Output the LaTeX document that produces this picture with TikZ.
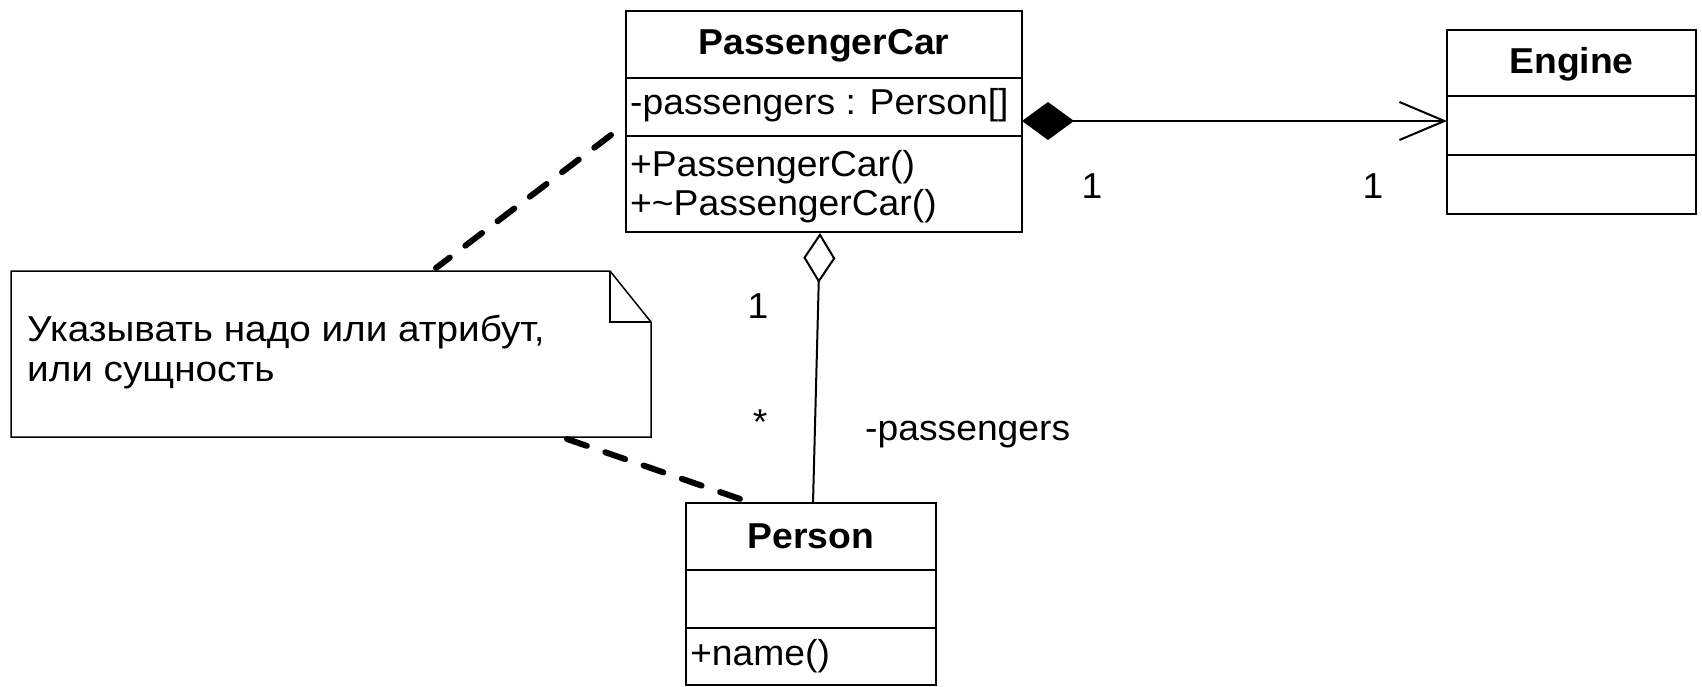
\documentclass[tikz,border=0pt]{standalone}
\usepackage{fontspec}
\setmainfont{Liberation Sans}[FakeStretch=1.035]
\newfontfamily\notefont{Liberation Sans}[FakeStretch=1.075]
\usetikzlibrary{arrows.meta}
\begin{document}
\begin{tikzpicture}[x=1pt,y=-1pt,
  comp/.style={draw, line width=2.6pt, anchor=north west, inner sep=0pt, outer sep=0pt},
  lbl/.style={font=\fontsize{36}{40}\selectfont, inner sep=0pt, anchor=base west},
  ttl/.style={font=\fontsize{36}{40}\selectfont\bfseries, inner sep=0pt, anchor=base},
  assoc/.style={line width=2pt},
  notebox/.style={line width=1.5pt, line join=miter},
  notelink/.style={line width=6pt, line cap=round, dash pattern=on 21pt off 19.5pt},
]
\useasboundingbox (0,0) rectangle (1702,687);

% PassengerCar
\node[comp, minimum width=396pt, minimum height=67pt] (pcT) at (626,11) {};
\node[comp, minimum width=396pt, minimum height=58pt] (pcA) at (626,78) {};
\node[comp, minimum width=396pt, minimum height=96pt] (pcO) at (626,136) {};
\node[ttl] (pcName) at (824,55) {PassengerCar};
\node[lbl] (pcAttr) at (630,115) {-passengers : Person[]};
\node[lbl] (pcOp1) at (630,177) {+PassengerCar()};
\node[lbl] (pcOp2) at (630,215) {+\textasciitilde PassengerCar()};

% Engine
\node[comp, minimum width=249pt, minimum height=66pt] (enT) at (1447,30) {};
\node[comp, minimum width=249pt, minimum height=59pt] (enA) at (1447,96) {};
\node[comp, minimum width=249pt, minimum height=59pt] (enO) at (1447,155) {};
\node[ttl] (enName) at (1571.5,74) {Engine};

% Person
\node[comp, minimum width=250pt, minimum height=67pt] (peT) at (686,503) {};
\node[comp, minimum width=250pt, minimum height=58pt] (peA) at (686,570) {};
\node[comp, minimum width=250pt, minimum height=57pt] (peO) at (686,628) {};
\node[ttl] (peName) at (811,548) {Person};
\node[lbl] (peOp) at (690,665) {+name()};

% Note
\coordinate (nA) at (11,271);
\coordinate (nB) at (610,271);
\coordinate (nC) at (651,322);
\coordinate (nD) at (651,437);
\coordinate (nE) at (11,437);
\coordinate (nF) at (610,322);
\draw[notebox] (nA) -- (nB) -- (nC) -- (nD) -- (nE) -- cycle;
\draw[notebox] (nB) -- (nF) -- (nC);
\node[lbl, font=\fontsize{36}{40}\notefont, align=left, anchor=north west] (noteText) at (27,315) {Указывать надо или атрибут,\\или сущность};

% Composition PassengerCar -> Engine
\coordinate (c1) at (1022,121);
\coordinate (c2) at (1447,121);
\draw[assoc, {Diamond[length=52pt,width=38pt]}-{Straight Barb[length=45pt,width=38pt]}] (c1) -- (c2);
\node[lbl, anchor=base] (m1) at (1092,199) {1};
\node[lbl, anchor=base] (m2) at (1373,199) {1};

% Aggregation PassengerCar <>- Person
\coordinate (a1) at (820,233);
\coordinate (a2) at (813,503);
\draw[assoc, {Diamond[open,fill=white,length=50pt,width=32pt]}-] (a1) -- (a2);
\node[lbl, anchor=base] (m3) at (758,318) {1};
\node[lbl, anchor=center] (m4) at (760,422) {*};
\node[lbl] (role) at (865,440) {-passengers};

% Note links
\coordinate (d1a) at (436,268);
\coordinate (d1b) at (611,135);
\coordinate (d2a) at (567,439);
\coordinate (d2b) at (746,501);
\draw[notelink] (d1b) -- (d1a);
\draw[notelink] (d2a) -- (d2b);
\end{tikzpicture}
\end{document}
